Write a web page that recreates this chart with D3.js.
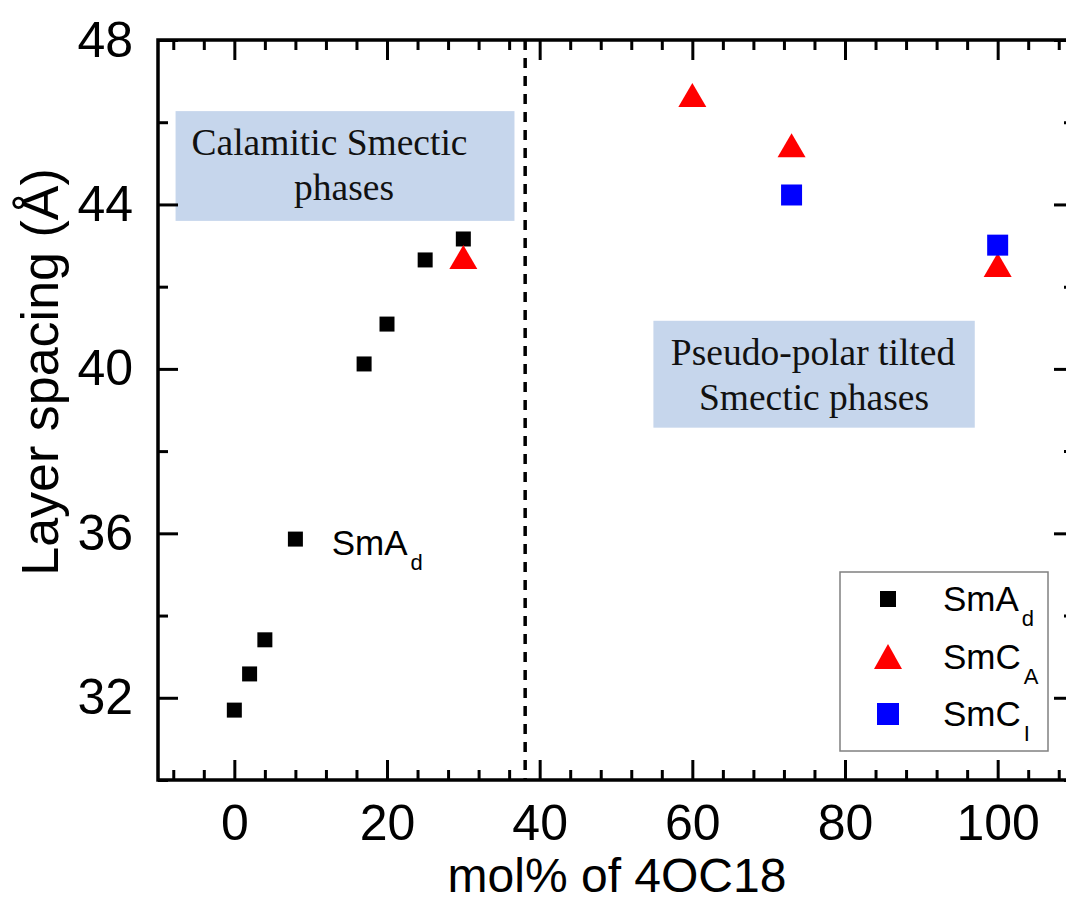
<!DOCTYPE html>
<html>
<head>
<meta charset="utf-8">
<script src="https://cdn.jsdelivr.net/npm/d3@7"></script>
<style>
  body { margin: 0; background: #fff; }
  svg { display: block; }
  .tick text { font-family: "Liberation Sans", Arial, sans-serif; }
</style>
</head>
<body>
<svg id="chart"></svg>
<script>
// Data
var smadX = [0, 2, 4, 8, 17, 20, 25, 30];
var smadY = [31.70, 32.58, 33.41, 35.86, 40.12, 41.09, 42.65, 43.16];
var smcaX = [30, 60, 73, 100];
var smcaY = [42.72, 46.66, 45.44, 42.53];
var smciX = [73, 100];
var smciY = [44.23, 43.01];

var xMajor = [0, 20, 40, 60, 80, 100];
var yMajor = [32, 36, 40, 44, 48];
var dividerX = 38.1;

var legendNames = ["SmA", "SmC", "SmC"];
var legendSubs = ["d", "A", "I"];

// Layout
var W = 1066, H = 903;
var margin = { top: 40, left: 158 };
var width = 916, height = 740;

var svg = d3.select("#chart").attr("width", W).attr("height", H);
var g = svg.append("g").attr("transform", "translate(" + margin.left + "," + margin.top + ")");

var x = d3.scaleLinear().domain([-10, 110]).range([0, width]);
var y = d3.scaleLinear().domain([30, 48]).range([height, 0]);

var xMinor = d3.range(-8, 110, 4).filter(function(v) { return xMajor.indexOf(v) < 0; });
var yMinor = d3.range(30, 48, 2).filter(function(v) { return yMajor.indexOf(v) < 0; });

// shaded annotation boxes (behind everything)
var boxes = [
  { x0: -7.7, x1: 36.7, y0: 46.27, y1: 43.6 },
  { x0: 54.9, x1: 97.0, y0: 41.17, y1: 38.57 }
];
g.selectAll(".note-box").data(boxes).enter().append("rect")
  .attr("class", "note-box")
  .attr("x", function(d) { return x(d.x0); })
  .attr("y", function(d) { return y(d.y0); })
  .attr("width", function(d) { return x(d.x1) - x(d.x0); })
  .attr("height", function(d) { return y(d.y1) - y(d.y0); })
  .style("fill", "#c6d6ec");

var serif = '"Liberation Serif", "Times New Roman", serif';
var noteLines = [
  { t: "Calamitic Smectic", cx: 171.5, by: 115 },
  { t: "phases", cx: 186, by: 160 },
  { t: "Pseudo-polar tilted", cx: 655, by: 325 },
  { t: "Smectic phases", cx: 656, by: 370 }
];
g.selectAll(".note-text").data(noteLines).enter().append("text")
  .attr("x", function(d) { return d.cx; })
  .attr("y", function(d) { return d.by; })
  .attr("text-anchor", "middle")
  .style("font-family", serif)
  .style("font-size", "37.5px")
  .style("fill", "#111")
  .text(function(d) { return d.t; });

// axes: major with labels, minor without
function styleAxis(sel) {
  sel.select(".domain").remove();
  sel.selectAll(".tick line").attr("stroke", "#000").attr("stroke-width", 3);
  sel.selectAll(".tick text").style("font-size", "50px").style("fill", "#000");
}

g.append("g").attr("transform", "translate(0," + height + ")")
  .call(d3.axisBottom(x).tickValues(xMajor).tickSizeInner(-20).tickSizeOuter(0).tickPadding(24))
  .call(styleAxis);
g.append("g").attr("transform", "translate(0," + height + ")")
  .call(d3.axisBottom(x).tickValues(xMinor).tickSizeInner(-10).tickSizeOuter(0).tickFormat(""))
  .call(styleAxis);
g.append("g")
  .call(d3.axisTop(x).tickValues(xMajor).tickSizeInner(-20).tickSizeOuter(0).tickFormat(""))
  .call(styleAxis);
g.append("g")
  .call(d3.axisTop(x).tickValues(xMinor).tickSizeInner(-10).tickSizeOuter(0).tickFormat(""))
  .call(styleAxis);

g.append("g")
  .call(d3.axisLeft(y).tickValues(yMajor).tickSizeInner(-20).tickSizeOuter(0).tickPadding(25))
  .call(styleAxis);
g.append("g")
  .call(d3.axisLeft(y).tickValues(yMinor).tickSizeInner(-10).tickSizeOuter(0).tickFormat(""))
  .call(styleAxis);
g.append("g").attr("transform", "translate(" + width + ",0)")
  .call(d3.axisRight(y).tickValues(yMajor).tickSizeInner(-20).tickSizeOuter(0).tickFormat(""))
  .call(styleAxis);
g.append("g").attr("transform", "translate(" + width + ",0)")
  .call(d3.axisRight(y).tickValues(yMinor).tickSizeInner(-10).tickSizeOuter(0).tickFormat(""))
  .call(styleAxis);

// frame
g.append("rect")
  .attr("width", width).attr("height", height)
  .style("fill", "none").style("stroke", "#000").style("stroke-width", 3.5);

// dashed divider
g.append("line")
  .attr("x1", x(dividerX)).attr("x2", x(dividerX))
  .attr("y1", 0).attr("y2", height)
  .style("stroke", "#000").style("stroke-width", 3.5)
  .style("stroke-dasharray", "10,8");

// markers
function squarePath(s) {
  return "M" + (-s / 2) + "," + (-s / 2) + "h" + s + "v" + s + "h" + (-s) + "Z";
}
function triPath(w, h) {
  return "M0," + (-h / 2) + "L" + (w / 2) + "," + (h / 2) + "L" + (-w / 2) + "," + (h / 2) + "Z";
}

g.selectAll(".smad").data(smadX).enter().append("path")
  .attr("class", "smad")
  .attr("d", squarePath(15))
  .attr("transform", function(d, i) { return "translate(" + x(d) + "," + y(smadY[i]) + ")"; })
  .style("fill", "#000");

g.selectAll(".smca").data(smcaX).enter().append("path")
  .attr("class", "smca")
  .attr("d", triPath(28, 24))
  .attr("transform", function(d, i) { return "translate(" + x(d) + "," + y(smcaY[i]) + ")"; })
  .style("fill", "#ff0000");

g.selectAll(".smci").data(smciX).enter().append("path")
  .attr("class", "smci")
  .attr("d", squarePath(21))
  .attr("transform", function(d, i) { return "translate(" + x(d) + "," + y(smciY[i]) + ")"; })
  .style("fill", "#0000ff");

// SmA_d label next to the 8 mol% point
var sans = '"Liberation Sans", Arial, sans-serif';
var ann = g.append("text")
  .attr("x", 331.7 - margin.left).attr("y", 555 - margin.top)
  .style("font-family", sans).style("font-size", "35px").style("fill", "#000");
ann.append("tspan").text("SmA");
ann.append("tspan").attr("dx", 3).attr("dy", 15).style("font-size", "22px").text("d");

// axis titles
svg.append("text")
  .attr("x", margin.left + width / 2 + 1).attr("y", 892)
  .attr("text-anchor", "middle")
  .style("font-family", sans).style("font-size", "48px")
  .text("mol% of 4OC18");

svg.append("text")
  .attr("transform", "translate(58,372) rotate(-90)")
  .attr("text-anchor", "middle")
  .style("font-family", sans).style("font-size", "52px")
  .text("Layer spacing (Å)");

// legend
var legend = svg.append("g");
legend.append("rect")
  .attr("x", 840).attr("y", 572).attr("width", 208).attr("height", 179)
  .style("fill", "#fff").style("stroke", "#808080").style("stroke-width", 1.5);

var legendMarks = [
  { d: squarePath(16), c: "#000" },
  { d: triPath(28, 25), c: "#ff0000" },
  { d: squarePath(22), c: "#0000ff" }
];
var rows = legend.selectAll(".leg").data(legendNames).enter().append("g")
  .attr("class", "leg")
  .attr("transform", function(d, i) { return "translate(0," + (i * 57.5) + ")"; });

rows.append("path")
  .attr("d", function(d, i) { return legendMarks[i].d; })
  .attr("transform", "translate(888,599)")
  .style("fill", function(d, i) { return legendMarks[i].c; });

var lt = rows.append("text")
  .attr("x", 943).attr("y", 611)
  .style("font-family", sans).style("font-size", "35px").style("fill", "#000");
lt.append("tspan").text(function(d) { return d; });
lt.append("tspan").attr("dx", 3).attr("dy", 15).style("font-size", "22px")
  .text(function(d, i) { return legendSubs[i]; });
</script>
</body>
</html>
